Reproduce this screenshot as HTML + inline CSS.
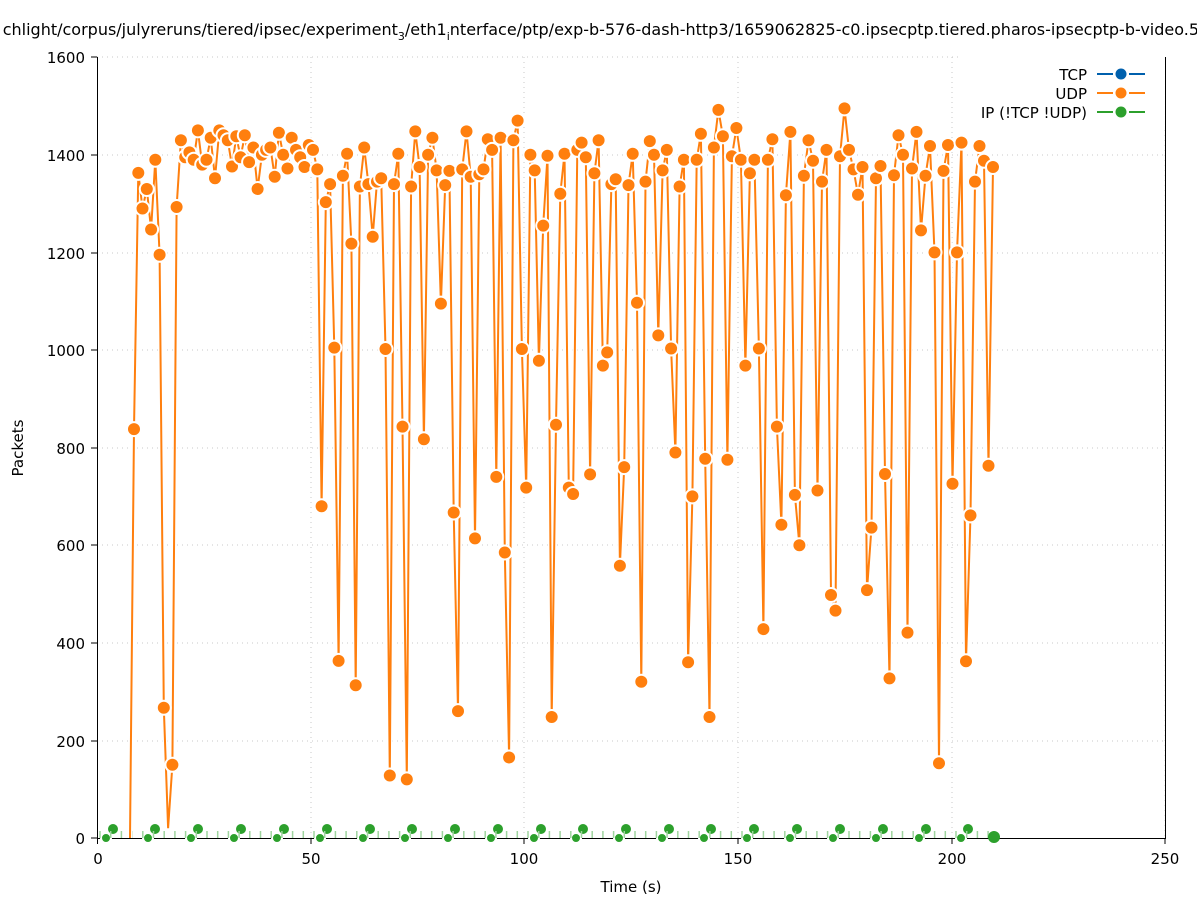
<!DOCTYPE html>
<html><head><meta charset="utf-8"><style>
body{margin:0;background:#fff;}
svg{display:block;font-family:"DejaVu Sans","Liberation Sans",sans-serif;}
</style></head><body>
<svg id="s" width="1197" height="900" viewBox="0 0 1197 900" xmlns="http://www.w3.org/2000/svg">
<rect width="1197" height="900" fill="#fff"/>
<g stroke="#c8c8c8" stroke-width="1" stroke-dasharray="1,4">
<line x1="97" y1="741" x2="1165" y2="741"/><line x1="97" y1="643" x2="1165" y2="643"/><line x1="97" y1="545" x2="1165" y2="545"/><line x1="97" y1="448" x2="1165" y2="448"/><line x1="97" y1="350" x2="1165" y2="350"/><line x1="97" y1="253" x2="1165" y2="253"/><line x1="97" y1="155" x2="1165" y2="155"/><line x1="97" y1="57" x2="960" y2="57"/>
<line x1="311" y1="57" x2="311" y2="838"/><line x1="524" y1="57" x2="524" y2="838"/><line x1="738" y1="57" x2="738" y2="838"/><line x1="952" y1="57" x2="952" y2="838"/><line x1="1165" y1="130" x2="1165" y2="838"/>
</g>
<g stroke="#000" stroke-width="1" fill="none">
<path d="M97.5 57V838.5H1165.5V57"/>
<path d="M97 57h-6M97 155h-6M97 253h-6M97 350h-6M97 448h-6M97 545h-6M97 643h-6M97 741h-6M97 838h-6"/>
<path d="M97.5 838v6M311 838v6M524 838v6M738 838v6M952 838v6M1165 838v6"/>
</g>
<g font-size="15" fill="#000" text-anchor="end">
<text x="85" y="63">1600</text><text x="85" y="161">1400</text><text x="85" y="259">1200</text><text x="85" y="356">1000</text><text x="85" y="454">800</text><text x="85" y="551">600</text><text x="85" y="649">400</text><text x="85" y="747">200</text><text x="85" y="844">0</text>
</g>
<g font-size="15" fill="#000" text-anchor="middle">
<text x="98" y="864">0</text><text x="311" y="864">50</text><text x="524" y="864">100</text><text x="738" y="864">150</text><text x="952" y="864">200</text><text x="1165" y="864">250</text>
<text x="631" y="892">Time (s)</text>
<text transform="translate(23,448) rotate(-90)">Packets</text>
</g>
<text x="1199" y="35" font-size="16" text-anchor="end">chlight/corpus/julyreruns/tiered/ipsec/experiment<tspan font-size="11" dy="5">3</tspan><tspan dy="-5">/eth1</tspan><tspan font-size="11" dy="5">i</tspan><tspan dy="-5">nterface/ptp/exp-b-576-dash-http3/1659062825-c0.ipsecptp.tiered.pharos-ipsecptp-b-video.5</tspan></text>
<g id="ip"></g>
<g id="udp"></g>
<g font-size="15" text-anchor="end">
<text x="1087" y="80">TCP</text><text x="1087" y="99">UDP</text><text x="1087" y="118">IP (!TCP  !UDP)</text>
</g>
<g stroke-width="2">
<line x1="1097" y1="74" x2="1113" y2="74" stroke="#0060ad"/><line x1="1129" y1="74" x2="1145" y2="74" stroke="#0060ad"/><circle cx="1121" cy="74" r="5.5" fill="#0060ad" stroke="none"/>
<line x1="1097" y1="93" x2="1113" y2="93" stroke="#ff7f0e"/><line x1="1129" y1="93" x2="1145" y2="93" stroke="#ff7f0e"/><circle cx="1121" cy="93" r="5.5" fill="#ff7f0e" stroke="none"/>
<line x1="1097" y1="112" x2="1113" y2="112" stroke="#2ca02c"/><line x1="1129" y1="112" x2="1145" y2="112" stroke="#2ca02c"/><circle cx="1121" cy="112" r="5.5" fill="#2ca02c" stroke="none"/>
</g>
</svg>
<script>
var v=[838,1363,1290,1330,1247,1390,1195,267,20,150,1293,1430,1395,1405,1390,1450,1380,1390,1435,1352,1450,1440,1430,1376,1438,1395,1440,1385,1415,1330,1400,1410,1415,1355,1445,1400,1372,1435,1410,1395,1375,1420,1410,1370,680,1303,1340,1005,363,1357,1402,1218,313,1335,1415,1340,1232,1345,1352,1002,128,1340,1402,843,120,1335,1448,1375,817,1400,1435,1368,1095,1338,1367,667,260,1370,1448,1355,614,1360,1370,1432,1410,740,1435,585,165,1430,1470,1002,718,1400,1368,978,1255,1398,248,847,1320,1402,718,705,1410,1425,1395,745,1362,1430,968,995,1340,1350,558,760,1338,1402,1097,320,1345,1428,1400,1030,1368,1410,1003,790,1335,1390,360,700,1390,1443,777,248,1415,1492,1438,775,1397,1455,1390,968,1362,1390,1003,428,1390,1432,843,642,1317,1447,703,600,1357,1430,1388,712,1345,1410,498,466,1397,1495,1410,1370,1318,1375,508,636,1352,1377,746,327,1358,1440,1400,421,1372,1447,1245,1357,1418,1200,153,1367,1420,726,1200,1425,362,661,1345,1418,1388,763,1375];
var n=v.length,pts=["130,838"],c="";
for(var i=0;i<n;i++){var x=134+(978-134)*i/(n-1);if(x>710)x=710+(x-710)*(993-710)/(978-710);var y=838-v[i]*0.488;pts.push(x.toFixed(1)+","+y.toFixed(1));
if(i!=8)c+='<circle cx="'+x.toFixed(1)+'" cy="'+y.toFixed(1)+'" r="7" fill="#ff7f0e" stroke="#fff" stroke-width="2"/>';}
document.getElementById("udp").innerHTML='<polyline points="'+pts.join(" ")+'" fill="none" stroke="#fff" stroke-width="5"/><polyline points="'+pts.join(" ")+'" fill="none" stroke="#ff7f0e" stroke-width="2"/>'+c;
var g="",gx=[113,155,198,241,284,327,370,412,455,498,541,583,626,669,711,754,797,840,883,926,968];
for(var j=0;j<gx.length;j++){var a=gx[j];g+='<circle cx="'+a+'" cy="829" r="6" fill="#2ca02c" stroke="#fff" stroke-width="2"/><circle cx="'+(a-7)+'" cy="838" r="5" fill="#2ca02c" stroke="#fff" stroke-width="2"/>';}
for(var k=100;k<990;k+=10.7){g+='<line x1="'+k.toFixed(1)+'" y1="831" x2="'+k.toFixed(1)+'" y2="838" stroke="#9fd49f" stroke-width="1.5"/>';}
g+='<circle cx="994" cy="837" r="6" fill="#2ca02c"/>';
document.getElementById("ip").innerHTML=g;
</script>
</body></html>
